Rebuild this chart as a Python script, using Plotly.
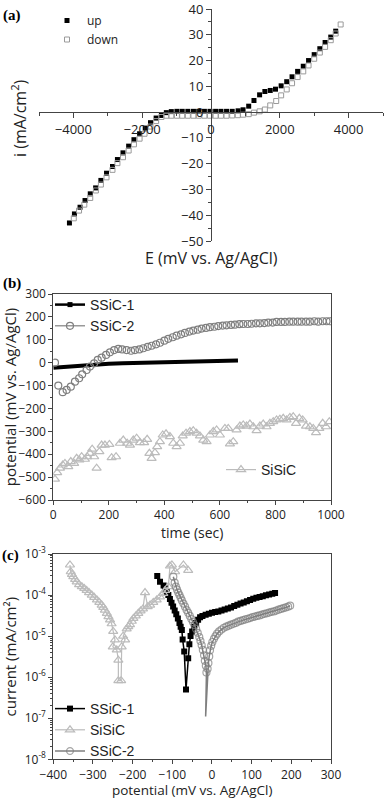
import plotly.graph_objects as go

# ---------------- Panel (a) data ----------------
E_up = [-4115, -3970, -3807, -3662, -3510, -3354, -3201, -3037, -2864, -2720,
        -2558, -2394, -2240, -2076, -1912, -1759, -1595, -1442, -1298, -1154,
        -991, -837, -673, -510, -356, -192, -29, 135, 289, 452, 616, 788,
        932, 1096, 1249, 1413, 1566, 1722, 1875, 2039, 2201, 2356, 2518, 2682,
        2836, 3000, 3164, 3317, 3481, 3625]
i_up = [-43.0, -39.5, -36.9, -34.3, -31.7, -29.4, -26.5, -23.7, -21.1, -18.4,
        -15.8, -13.2, -10.7, -8.4, -6.2, -4.1, -2.3, -1.3, -0.2, 0.2,
        0.3, 0.3, 0.3, 0.3, 0.3, 0.3, 0.3, 0.3, 0.3, 0.3, 0.3, 0.5,
        0.9, 2.3, 4.5, 6.7, 8.0, 8.4, 8.9, 10.2, 11.8, 13.7, 15.8, 17.8,
        20.0, 22.3, 24.6, 27.0, 29.1, 31.4]
E_down = [-3989, -3836, -3683, -3510, -3346, -3201, -3037, -2864, -2720, -2558,
          -2394, -2240, -2076, -1932, -1759, -1595, -1442, -1298, -1154, -991,
          -837, -673, -510, -356, -192, -29, 135, 289, 452, 616, 779, 932,
          1096, 1249, 1413, 1566, 1722, 1895, 2039, 2201, 2356, 2518, 2682, 2836,
          3000, 3164, 3317, 3481, 3625, 3769]
i_down = [-41.2, -38.2, -35.9, -33.3, -30.4, -28.1, -25.3, -22.4, -19.8, -17.5,
          -14.9, -12.5, -10.3, -8.4, -5.6, -3.5, -1.9, -1.4, -1.4, -1.4,
          -1.4, -1.4, -1.4, -1.4, -1.4, -1.4, -1.4, -1.4, -1.4, -1.3, -1.2, -1.0,
          -0.8, -0.2, 0.3, 1.0, 2.6, 4.3, 6.5, 8.8, 11.2, 13.6, 15.8, 18.1,
          20.7, 23.1, 25.3, 27.9, 30.5, 34.0]

# ---------------- Panel (b) data ----------------
t_s1 = [0, 50, 100, 150, 200, 250, 300, 350, 400, 450, 500, 550, 600, 665]
v_s1 = [-22, -17, -12, -8, -5, -3, -1, 0, 2, 4, 5, 7, 8, 10]

t_s2 = [6, 18, 34, 48, 63, 78, 93, 104, 120, 132, 147, 160, 174, 190, 204, 219,
        234, 248, 264, 280, 294, 310, 324, 340, 354, 370, 384, 400, 414, 430,
        444, 460, 474, 490, 504, 520, 534, 550, 564, 580, 594, 610, 624, 640,
        654, 670, 684, 700, 714, 730, 744, 760, 774, 790, 804, 820, 834, 850,
        864, 880, 894, 910, 924, 940, 954, 970, 984, 996]
v_s2 = [0, -100, -129, -119, -105, -83, -68, -51, -32, -17, -3, 12, 22, 34, 45, 55,
        60, 58, 55, 52, 55, 58, 63, 69, 74, 80, 87, 96, 104, 111,
        118, 124, 130, 136, 140, 144, 149, 152, 155, 157, 160, 162, 163, 165,
        166, 168, 169, 169, 170, 172, 172, 173, 175, 175, 178, 178, 178, 179,
        179, 179, 179, 179, 179, 181, 179, 181, 181, 181]

t_si = [6, 14, 24, 34, 42, 54, 63, 75, 84, 94, 102, 114, 122, 132, 140, 147,
        156, 166, 174, 186, 202, 210, 226, 240, 252, 266, 276, 288, 300, 312,
        327, 338, 346, 354, 366, 374, 384, 394, 406, 420, 432, 444, 456, 466,
        478, 492, 504, 516, 528, 540, 552, 564, 576, 588, 600, 618, 630, 636,
        648, 660, 672, 684, 696, 708, 720, 732, 744, 756, 768, 780, 792, 804,
        816, 828, 840, 852, 864, 874, 886, 898, 910, 924, 936, 946, 958, 970,
        982, 994]
v_si = [-509, -480, -461, -447, -440, -454, -432, -440, -418, -425, -411, -422,
        -411, -396, -378, -411, -461, -389, -360, -360, -357, -415, -411, -352,
        -338, -352, -360, -338, -330, -349, -349, -335, -396, -418, -393, -367,
        -345, -316, -311, -323, -352, -367, -352, -320, -308, -301, -297, -308,
        -320, -338, -345, -316, -301, -294, -316, -287, -287, -355, -345, -294,
        -277, -272, -277, -268, -280, -297, -277, -268, -280, -265, -258, -250,
        -247, -243, -250, -239, -236, -265, -243, -250, -277, -280, -287, -306,
        -287, -265, -280, -258]

# ---------------- Panel (c) data ----------------
E_c1 = [-138, -131, -122, -118, -114, -110, -106, -102, -98, -94, -90, -86,
        -82, -79, -76, -74, -70, -65.5, -60, -57, -54, -50, -45, -40, -35, -30,
        -24, -16, -8, 0, 8, 16, 24, 32, 40, 48, 56, 64, 72, 80, 88, 96, 104,
        112, 120, 128, 136, 144, 152, 159]
i_c1 = [2.9e-4, 2.1e-4, 1.7e-4, 1.45e-4, 1.2e-4, 1.0e-4, 8.0e-5, 6.5e-5, 5.3e-5,
        4.2e-5, 3.4e-5, 2.7e-5, 2.1e-5, 1.7e-5, 1.4e-5, 8.3e-6, 4.2e-6, 5.0e-7,
        2.9e-6, 6.3e-6, 1.0e-5, 1.3e-5, 1.7e-5, 2.1e-5, 2.5e-5, 2.9e-5, 3.1e-5,
        3.3e-5, 3.5e-5, 3.7e-5, 3.85e-5, 4.0e-5, 4.2e-5, 4.45e-5, 4.7e-5, 5.0e-5,
        5.4e-5, 5.8e-5, 6.2e-5, 6.6e-5, 7.1e-5, 7.6e-5, 8.1e-5, 8.6e-5, 9.0e-5,
        9.4e-5, 9.9e-5, 1.03e-4, 1.08e-4, 1.12e-4]

E_si = [-358, -356, -353, -349.6, -345, -341, -335, -328, -322, -316, -310, -303,
        -297, -290, -284, -278, -274, -270, -265, -261, -257, -253, -249, -244.5,
        -250, -240, -236, -236, -229, -227.6, -219, -224, -215, -211, -206.7,
        -202, -198, -192, -185.7, -180, -174, -168.8, -162, -156, -148, -139.4,
        -131, -122.7, -118, -110, -106, -101, -93, -72, -60]
i_si = [5.4e-4, 3.7e-4, 3.2e-4, 2.8e-4, 2.4e-4, 2.1e-4, 1.8e-4, 1.6e-4, 1.45e-4,
        1.3e-4, 1.15e-4, 1.0e-4, 8.8e-5, 7.6e-5, 6.6e-5, 5.7e-5, 5.0e-5, 4.3e-5,
        3.6e-5, 3.0e-5, 2.5e-5, 2.0e-5, 1.3e-5, 8.1e-6, 5.5e-6, 4.6e-6, 2.6e-6,
        8.2e-7, 8.2e-7, 5.5e-6, 8.1e-6, 1.0e-5, 1.5e-5, 1.7e-5, 1.9e-5, 2.3e-5,
        2.7e-5, 3.1e-5, 3.6e-5, 4.1e-5, 4.6e-5, 1.15e-4, 5.2e-5, 5.7e-5, 6.6e-5,
        7.6e-5, 9.0e-5, 1.1e-4, 1.3e-4, 1.6e-4, 5.1e-4, 5.4e-4, 3.7e-4, 5.4e-4,
        4.0e-4]

E_c2 = [-97.5, -94, -91, -88, -85, -82, -79, -76, -72, -68, -64, -60, -56, -52,
        -48, -44, -40, -36, -32, -29, -26, -23, -20, -18, -15.5, -14, -16, -11,
        -9, -7, -5, -2, 1, 5, 9, 13, 18, 24, 30, 36, 42, 48, 54, 60, 66, 72, 78,
        84, 90, 96, 102, 108, 114, 120, 126, 132, 138, 144, 150, 156, 162, 168,
        174, 180, 186, 192, 197]
i_c2 = [2.8e-4, 2.0e-4, 1.6e-4, 1.35e-4, 1.15e-4, 1.0e-4, 8.6e-5, 7.4e-5, 6.2e-5,
        5.2e-5, 4.3e-5, 3.7e-5, 3.1e-5, 2.6e-5, 2.2e-5, 1.85e-5, 1.5e-5, 1.2e-5,
        9.5e-6, 7.6e-6, 6.0e-6, 4.6e-6, 3.4e-6, 2.5e-6, 1.9e-6, 1.3e-6, 1.1e-7,
        1.6e-6, 2.2e-6, 3.2e-6, 4.5e-6, 5.8e-6, 7.2e-6, 8.6e-6, 1.0e-5, 1.15e-5,
        1.3e-5, 1.45e-5, 1.6e-5, 1.7e-5, 1.8e-5, 1.9e-5, 2.0e-5, 2.1e-5, 2.25e-5,
        2.35e-5, 2.45e-5, 2.55e-5, 2.65e-5, 2.75e-5, 2.9e-5, 3.0e-5, 3.1e-5,
        3.2e-5, 3.35e-5, 3.5e-5, 3.6e-5, 3.75e-5, 3.9e-5, 4.0e-5, 4.2e-5, 4.4e-5,
        4.6e-5, 4.8e-5, 5.0e-5, 5.2e-5, 5.5e-5]

# log-axis tick labels of panel (c)
c_tickvals = [1e-8, 1e-7, 1e-6, 1e-5, 1e-4, 1e-3]
c_ticktext = ["10<sup>-8</sup>", "10<sup>-7</sup>", "10<sup>-6</sup>",
              "10<sup>-5</sup>", "10<sup>-4</sup>", "10<sup>-3</sup>"]

W, H = 387, 799
FONT = "Open Sans"
LFONT = "Liberation Sans"
AX = "#444"
TXT = "#222"
GRAY_C2 = "#7f7f7f"
GRAY_SI = "#bcbcbc"


def px(x):
    return x / W


def py(y):
    return 1 - y / H


fig = go.Figure()

# ---- (a)
fig.add_trace(go.Scatter(x=E_up, y=i_up, mode="markers", name="up",
                         marker=dict(symbol="square", size=5, color="black"),
                         xaxis="x", yaxis="y", legend="legend"))
fig.add_trace(go.Scatter(x=E_down, y=i_down, mode="markers", name="down",
                         marker=dict(symbol="square-open", size=5, color="#9a9a9a",
                                     line=dict(width=1)),
                         xaxis="x", yaxis="y", legend="legend"))

# ---- (b)
fig.add_trace(go.Scatter(x=t_s1, y=v_s1, mode="lines", name="SSiC-1",
                         line=dict(color="black", width=4), showlegend=False,
                         xaxis="x2", yaxis="y2"))
fig.add_trace(go.Scatter(x=t_s2, y=v_s2, mode="markers", name="SSiC-2",
                         marker=dict(symbol="circle-open", size=7, color=GRAY_C2,
                                     line=dict(width=1.2)), showlegend=False,
                         xaxis="x2", yaxis="y2"))
fig.add_trace(go.Scatter(x=t_si, y=v_si, mode="markers", name="SiSiC",
                         marker=dict(symbol="triangle-up-open", size=8, color=GRAY_SI,
                                     line=dict(width=1.2)), showlegend=False,
                         xaxis="x2", yaxis="y2"))
# legend entries (b)
fig.add_trace(go.Scatter(x=[None], y=[None], mode="lines+markers", name="SSiC-1",
                         line=dict(color="black", width=2.5),
                         marker=dict(symbol="square", size=5, color="black"),
                         xaxis="x2", yaxis="y2", legend="legend2"))
fig.add_trace(go.Scatter(x=[None], y=[None], mode="lines+markers", name="SSiC-2",
                         line=dict(color=GRAY_C2, width=1.2),
                         marker=dict(symbol="circle-open", size=7, color=GRAY_C2,
                                     line=dict(width=1.2)),
                         xaxis="x2", yaxis="y2", legend="legend2"))
fig.add_trace(go.Scatter(x=[None], y=[None], mode="lines+markers", name="SiSiC",
                         line=dict(color=GRAY_SI, width=1.2),
                         marker=dict(symbol="triangle-up-open", size=8, color=GRAY_SI,
                                     line=dict(width=1.2)),
                         xaxis="x2", yaxis="y2", legend="legend3"))

# ---- (c)
fig.add_trace(go.Scatter(x=E_c1, y=i_c1, mode="lines+markers", name="SSiC-1",
                         line=dict(color="black", width=1.5),
                         marker=dict(symbol="square", size=6, color="black"),
                         xaxis="x3", yaxis="y3", legend="legend4"))
fig.add_trace(go.Scatter(x=E_si, y=i_si, mode="lines+markers", name="SiSiC",
                         line=dict(color=GRAY_SI, width=1.2),
                         marker=dict(symbol="triangle-up-open", size=8, color=GRAY_SI,
                                     line=dict(width=1.2)),
                         xaxis="x3", yaxis="y3", legend="legend4"))
c2_sizes = [0 if v < 2e-7 else 7 for v in i_c2]  # the deepest point is a bare line tip
fig.add_trace(go.Scatter(x=E_c2, y=i_c2, mode="lines+markers", name="SSiC-2",
                         line=dict(color=GRAY_C2, width=1.5),
                         marker=dict(symbol="circle-open", size=c2_sizes, color=GRAY_C2,
                                     line=dict(width=1.2)),
                         xaxis="x3", yaxis="y3", legend="legend4"))

tickf = dict(family=FONT, size=12, color=TXT)
box_common = dict(showline=True, linecolor=AX, linewidth=1, mirror=True,
                  ticks="outside", ticklen=4, tickcolor=AX, showgrid=False,
                  zeroline=False, tickfont=tickf, automargin=False,
                  ticklabeloverflow="allow")

# domains and zero-crossing positions for panel (a)
ya_dom = [py(241), py(9)]
xa_dom = [px(39), px(383)]
xpos_a = ya_dom[0] + (0 - (-50)) / 90 * (ya_dom[1] - ya_dom[0])
ypos_a = xa_dom[0] + (0 - (-5000)) / 10000 * (xa_dom[1] - xa_dom[0])

fig.update_layout(
    width=W, height=H, autosize=False,
    margin=dict(l=0, r=0, t=0, b=0, pad=0, autoexpand=False),
    paper_bgcolor="white", plot_bgcolor="white",
    font=dict(family=FONT, color=TXT),
    xaxis=dict(domain=xa_dom, range=[-5000, 5000], anchor="free", position=xpos_a,
               showline=True, linecolor=AX, linewidth=1, ticks="outside", ticklen=5,
               tickcolor=AX, dtick=2000, tick0=0, showgrid=False, zeroline=False,
               automargin=False, ticklabeloverflow="allow",
               tickfont=dict(family=FONT, size=13, color=TXT),
               minor=dict(ticks="outside", ticklen=3, dtick=1000, tickcolor=AX)),
    yaxis=dict(domain=ya_dom, range=[-50, 40], anchor="free", position=ypos_a,
               showline=True, linecolor=AX, linewidth=1, ticks="outside", ticklen=5,
               tickcolor=AX, dtick=10, tick0=0, showgrid=False, zeroline=False,
               automargin=False, ticklabeloverflow="allow",
               tickfont=dict(family=FONT, size=13, color=TXT),
               minor=dict(ticks="outside", ticklen=3, dtick=5, tickcolor=AX)),
    xaxis2=dict(domain=[px(53.3), px(331)], range=[0, 1000], anchor="y2",
                dtick=200, minor=dict(ticks="outside", ticklen=2, dtick=100, tickcolor=AX),
                title=dict(text="time (sec)", font=dict(family=FONT, size=14, color=TXT),
                           standoff=0),
                **box_common),
    yaxis2=dict(domain=[py(500), py(294)], range=[-600, 300], anchor="x2",
                dtick=100, minor=dict(ticks="outside", ticklen=2, dtick=50, tickcolor=AX),
                title=dict(text="potential (mV vs. Ag/AgCl)",
                           font=dict(family=FONT, size=15, color=TXT), standoff=4),
                **box_common),
    xaxis3=dict(domain=[px(53.3), px(331)], range=[-400, 300], anchor="y3",
                dtick=100, minor=dict(ticks="outside", ticklen=2, dtick=50, tickcolor=AX),
                title=dict(text="potential (mV vs. Ag/AgCl)",
                           font=dict(family=FONT, size=13.5, color=TXT), standoff=2),
                **box_common),
    yaxis3=dict(domain=[py(759.3), py(554)], type="log", range=[-8, -3], anchor="x3",
                tickvals=c_tickvals, ticktext=c_ticktext,
                minor=dict(ticks="outside", ticklen=2, dtick="D1", tickcolor=AX),
                title=dict(text="current (mA/cm²)",
                           font=dict(family=FONT, size=15, color=TXT), standoff=4),
                **box_common),
    legend=dict(x=px(47), y=py(6), xanchor="left", yanchor="top",
                bgcolor="rgba(0,0,0,0)", tracegroupgap=0,
                font=dict(family=FONT, size=12, color=TXT)),
    legend2=dict(x=px(50), y=py(289), xanchor="left", yanchor="top",
                 bgcolor="rgba(0,0,0,0)", tracegroupgap=0,
                 font=dict(family=LFONT, size=14, color=TXT)),
    legend3=dict(x=px(221), y=py(454), xanchor="left", yanchor="top",
                 bgcolor="rgba(0,0,0,0)",
                 font=dict(family=LFONT, size=14, color=TXT)),
    legend4=dict(x=px(50), y=py(693), xanchor="left", yanchor="top",
                 bgcolor="rgba(0,0,0,0)", tracegroupgap=0,
                 font=dict(family=LFONT, size=14, color=TXT)),
    annotations=[
        dict(text="<b>(a)</b>", x=px(1), y=py(15), xref="paper", yref="paper",
             xanchor="left", yanchor="middle", showarrow=False,
             font=dict(family="Liberation Serif", size=15, color="black")),
        dict(text="<b>(b)</b>", x=px(1), y=py(284), xref="paper", yref="paper",
             xanchor="left", yanchor="middle", showarrow=False,
             font=dict(family="Liberation Serif", size=15, color="black")),
        dict(text="<b>(c)</b>", x=px(0), y=py(555), xref="paper", yref="paper",
             xanchor="left", yanchor="middle", showarrow=False,
             font=dict(family="Liberation Serif", size=15, color="black")),
        dict(text="E (mV vs. Ag/AgCl)", x=px(211), y=py(258), xref="paper", yref="paper",
             xanchor="center", yanchor="middle", showarrow=False,
             font=dict(family=FONT, size=16, color=TXT)),
        dict(text="i (mA/cm<sup>2</sup>)", x=px(19), y=py(118), xref="paper", yref="paper",
             xanchor="center", yanchor="middle", showarrow=False, textangle=-90,
             font=dict(family=FONT, size=16, color=TXT)),
    ],
)

fig.write_html("out.html",
               config={"displayModeBar": False, "staticPlot": True},
               post_script="document.body.style.margin='0px';"
                           "document.body.style.overflow='hidden';")
